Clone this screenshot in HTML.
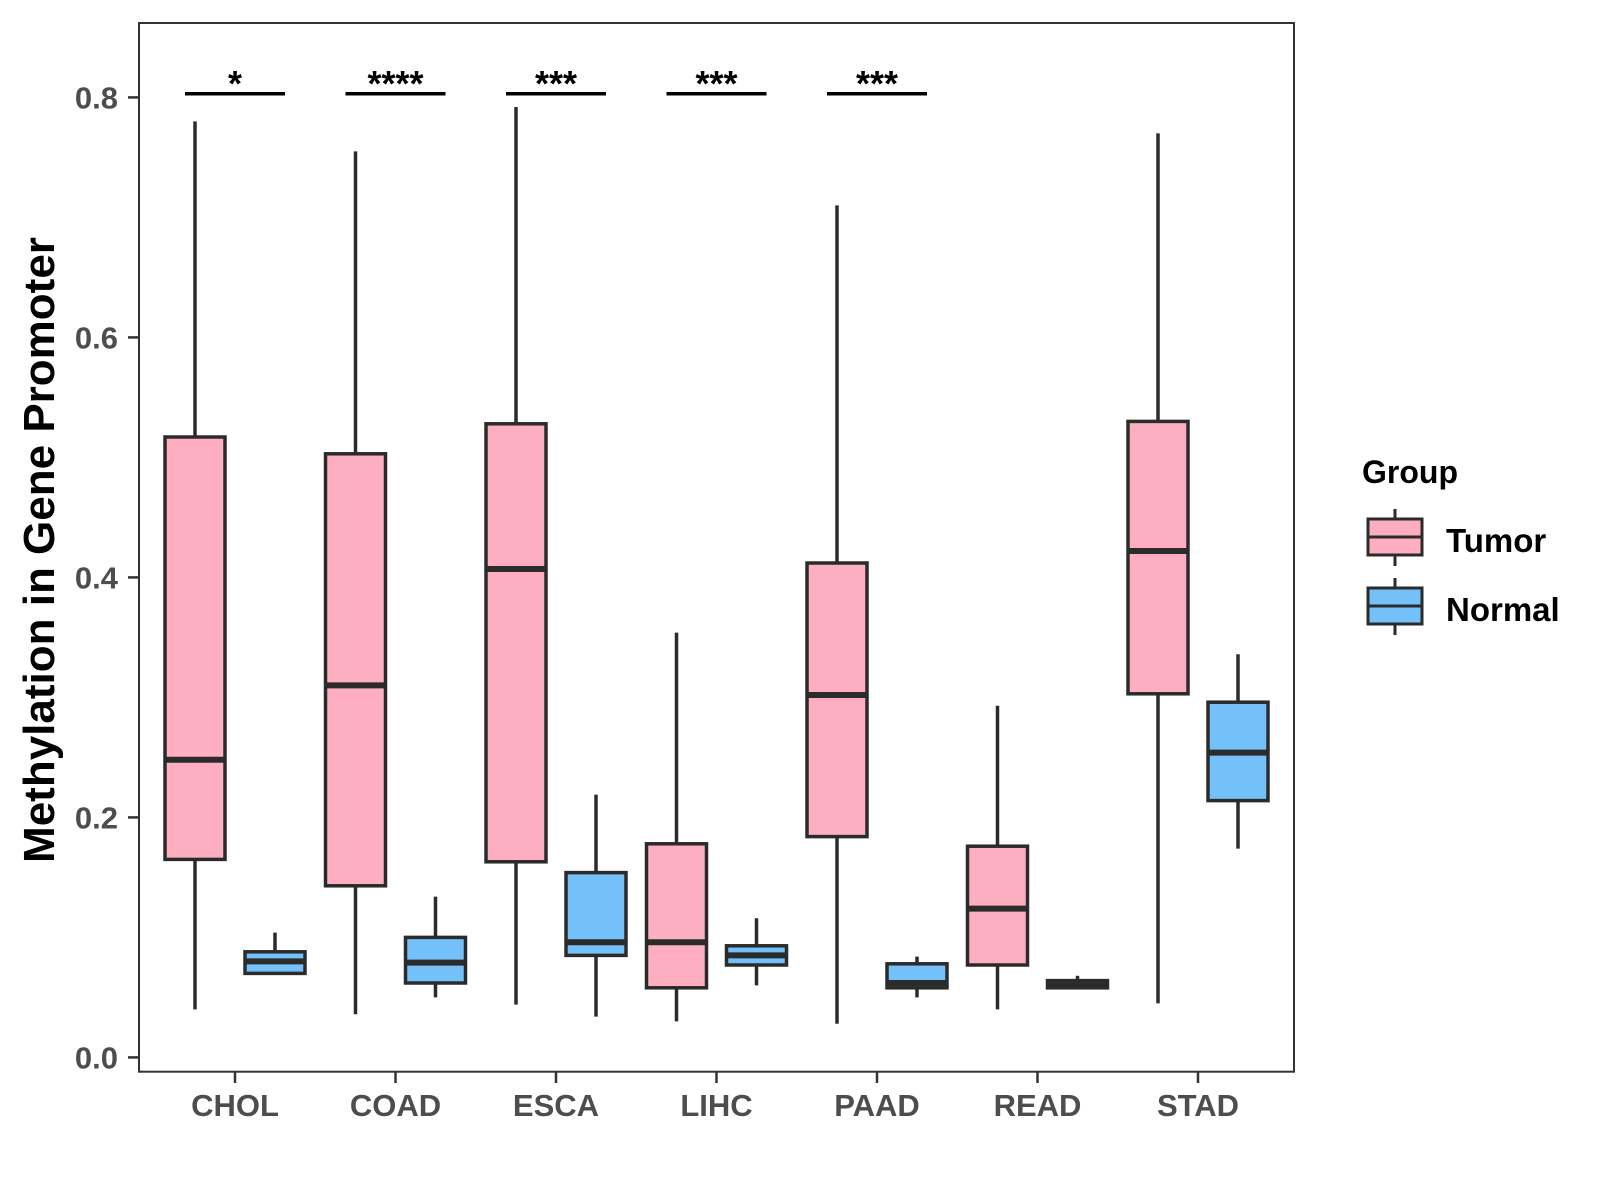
<!DOCTYPE html>
<html><head><meta charset="utf-8"><style>
body{margin:0;background:#fff;}
svg{display:block;font-family:"Liberation Sans",sans-serif;font-weight:bold;}
</style></head><body>
<svg id="chart" width="1600" height="1200" viewBox="0 0 1600 1200">
<rect x="139" y="23" width="1155" height="1048.7" fill="#fff" stroke="#333" stroke-width="2"/>
<g id="boxes"></g><g id="axes"></g><g id="sig"></g>
<text transform="translate(54,550) rotate(-90)" text-anchor="middle" font-size="44" fill="#000">Methylation in Gene Promoter</text>
<g>
<text x="1362" y="483" font-size="32" fill="#000">Group</text>
<g>
<line x1="1395" x2="1395" y1="509" y2="566" stroke="#2b2b2b" stroke-width="3"/>
<rect x="1368" y="519" width="54" height="36" fill="#FDAFC1" stroke="#2b2b2b" stroke-width="3"/>
<line x1="1368" x2="1422" y1="537" y2="537" stroke="#2b2b2b" stroke-width="3"/>
<text x="1446" y="552" font-size="33" fill="#000">Tumor</text></g>
<g>
<line x1="1395" x2="1395" y1="578" y2="635" stroke="#2b2b2b" stroke-width="3"/>
<rect x="1368" y="588" width="54" height="36" fill="#74C0F9" stroke="#2b2b2b" stroke-width="3"/>
<line x1="1368" x2="1422" y1="606" y2="606" stroke="#2b2b2b" stroke-width="3"/>
<text x="1446" y="621" font-size="33" fill="#000">Normal</text></g>
</g>
</svg>
<script>
const categories=["CHOL","COAD","ESCA","LIHC","PAAD","READ","STAD"];
const tumorMin=[0.04,0.036,0.044,0.03,0.028,0.04,0.045];
const tumorQ1=[0.165,0.143,0.163,0.058,0.184,0.077,0.303];
const tumorMed=[0.248,0.31,0.407,0.096,0.302,0.124,0.422];
const tumorQ3=[0.517,0.503,0.528,0.178,0.412,0.176,0.53];
const tumorMax=[0.78,0.755,0.792,0.354,0.71,0.293,0.77];
const normalMin=[0.07,0.05,0.034,0.06,0.05,0.057,0.174];
const normalQ1=[0.07,0.062,0.085,0.077,0.058,0.058,0.214];
const normalMed=[0.08,0.079,0.096,0.085,0.062,0.061,0.254];
const normalQ3=[0.088,0.1,0.154,0.093,0.078,0.064,0.296];
const normalMax=[0.104,0.134,0.219,0.116,0.084,0.068,0.336];
const yTicks=[0,0.2,0.4,0.6,0.8];
const yTickLabels=["0.0","0.2","0.4","0.6","0.8"];
const sigLabels=["*","****","***","***","***","",""];
const sigLevel=0.803;
const NS="http://www.w3.org/2000/svg";
const y=v=>1057.4-v*(1057.4-97.4)/0.8;
const x=i=>235+i*160.5;
function mk(t,a,p){const e=document.createElementNS(NS,t);for(const k in a)e.setAttribute(k,a[k]);p.appendChild(e);return e;}
const boxes=document.getElementById('boxes'),axes=document.getElementById('axes'),sig=document.getElementById('sig');
function box(cx,mn,q1,md,q3,mx,fill,g){
 const w=60,s="#2b2b2b";
 mk('line',{x1:cx,x2:cx,y1:y(mx),y2:y(mn),stroke:s,'stroke-width':3.5},g);
 mk('rect',{x:cx-w/2,y:y(q3),width:w,height:y(q1)-y(q3),fill:fill,stroke:s,'stroke-width':3.5},g);
 mk('line',{x1:cx-w/2,x2:cx+w/2,y1:y(md),y2:y(md),stroke:s,'stroke-width':6},g);
}
categories.forEach((c,i)=>{
 const gt=mk('g',{},boxes);
 
 
 box(x(i)-40,tumorMin[i],tumorQ1[i],tumorMed[i],tumorQ3[i],tumorMax[i],'#FDAFC1',gt);
 const gn=mk('g',{},boxes);
 
 
 box(x(i)+40,normalMin[i],normalQ1[i],normalMed[i],normalQ3[i],normalMax[i],'#74C0F9',gn);
 const tk=mk('line',{x1:x(i),x2:x(i),y1:1071.7,y2:1083,stroke:'#333','stroke-width':2.5},axes);
 
 
 const tl=mk('text',{x:x(i),y:1116,'text-anchor':'middle','font-size':31,fill:'#4d4d4d'},axes);
 
 
 tl.textContent=c;
 if(sigLabels[i]){
  const sl=mk('line',{x1:x(i)-50,x2:x(i)+50,y1:y(sigLevel),y2:y(sigLevel),stroke:'#000','stroke-width':3.5},sig);
  
  
  const st=mk('text',{x:x(i),y:y(sigLevel)+2,'text-anchor':'middle','font-size':36,fill:'#000'},sig);
  
  
  st.textContent=sigLabels[i];
 }
});
yTicks.forEach((v,i)=>{
 const tk=mk('line',{x1:128,x2:139,y1:y(v),y2:y(v),stroke:'#333','stroke-width':2.5},axes);
 
 
 const tl=mk('text',{x:118,y:y(v)+11,'text-anchor':'end','font-size':31,fill:'#4d4d4d'},axes);
 
 
 tl.textContent=yTickLabels[i];
});
</script>
</body></html>
